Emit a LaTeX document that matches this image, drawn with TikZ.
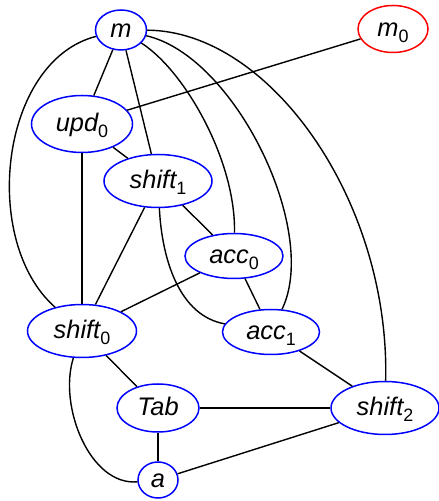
\documentclass[tikz,border=0pt]{standalone}
\usepackage{fontspec}
\setmainfont{Liberation Sans}
\usetikzlibrary{shapes.geometric}
% upright, smaller index set below the baseline
\newcommand{\lowidx}[1]{\raisebox{-5.5bp}{\fontsize{18}{18}\selectfont\upshape #1}}
\newcommand{\lbl}[2]{\textit{#1}\lowidx{#2}}
\begin{document}
\begin{tikzpicture}[x=1bp,y=1bp,
  vtx/.style={ellipse, draw=blue, line width=1.5bp, inner sep=0pt,
    font=\fontsize{25.5}{25.5}\selectfont\itshape, text height=16bp, text depth=0bp},
  link/.style={line width=1.4bp, draw=black}]
\useasboundingbox (0,0) rectangle (439,501);

% vertices
\node[vtx, minimum width=51bp, minimum height=40bp] (m) at (121,471) {m};
\node[vtx, draw=red, minimum width=70bp, minimum height=47bp] (m0) at (393,472) {\lbl{m}{0}};
\node[vtx, minimum width=101bp, minimum height=57bp] (upd0) at (82,377) {\lbl{upd}{0}};
\node[vtx, minimum width=108bp, minimum height=53bp] (shift1) at (158,320) {\lbl{shift}{1}};
\node[vtx, minimum width=98bp, minimum height=45bp] (acc0) at (234,245) {\lbl{acc}{0}};
\node[vtx, minimum width=97bp, minimum height=45bp] (acc1) at (271,169) {\lbl{acc}{1}};
\node[vtx, minimum width=109bp, minimum height=53bp] (shift0) at (82,170) {\lbl{shift}{0}};
\node[vtx, minimum width=82bp, minimum height=48bp] (Tab) at (158,93) {Tab};
\node[vtx, minimum width=40bp, minimum height=36bp] (a) at (158,21) {a};
\node[vtx, minimum width=108bp, minimum height=53bp] (shift2) at (385,93) {\lbl{shift}{2}};

% straight connections
\draw[link] (m) -- (upd0);
\draw[link] (m) -- (shift1);
\draw[link] (upd0) -- (m0);
\draw[link] (upd0) -- (shift1);
\draw[link] (upd0) -- (shift0);
\draw[link] (shift1) -- (shift0);
\draw[link] (shift1) -- (acc0);
\draw[link] (acc0) -- (shift0);
\draw[link] (acc0) -- (acc1);
\draw[link] (acc1) -- (shift2);
\draw[link] (shift0) -- (Tab);
\draw[link] (Tab) -- (a);
\draw[link] (Tab) -- (shift2);
\draw[link] (a) -- (shift2);

% curved connections
\draw[link] (m) .. controls (0,440) and (-20,260) .. (shift0);
\draw[link] (shift0) .. controls (58,95) and (90,15) .. (a);
\draw[link] (shift1) .. controls (162,240) and (180,185) .. (acc1);
\draw[link] (m) .. controls (185,430) and (236,340) .. (acc0);
\draw[link] (m) .. controls (235,445) and (320,270) .. (acc1);
\draw[link] (m) .. controls (270,470) and (390,300) .. (shift2);
\end{tikzpicture}
\end{document}
